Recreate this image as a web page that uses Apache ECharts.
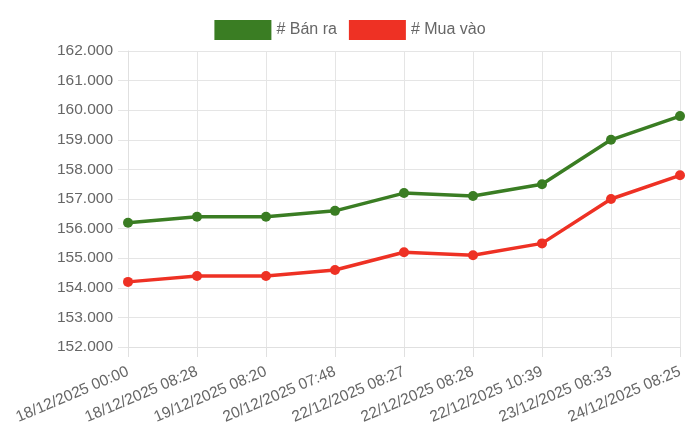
<!DOCTYPE html>
<html>
<head>
<meta charset="utf-8">
<script src="https://cdn.jsdelivr.net/npm/echarts@6/dist/echarts.min.js"></script>
<style>html,body{margin:0;padding:0;background:#fff}#c{width:700px;height:441px}</style>
</head>
<body>
<div id="c"></div>
<script>
const categories = ["18/12/2025 00:00","18/12/2025 08:28","19/12/2025 08:20","20/12/2025 07:48","22/12/2025 08:27","22/12/2025 08:28","22/12/2025 10:39","23/12/2025 08:33","24/12/2025 08:25"];
const banRa = [156200,156400,156400,156600,157200,157100,157500,159000,159800];
const muaVao = [154200,154400,154400,154600,155200,155100,155500,157000,157800];
const seriesNames = ["# Bán ra","# Mua vào"];

function fmt(v){return String(v).replace(/\B(?=(\d{3})+(?!\d))/g,'.');}
const font = "'Liberation Sans', Arial, Helvetica, sans-serif";
const chart = echarts.init(document.getElementById('c'));
chart.setOption({
  animation:false,
  textStyle:{fontFamily:font},
  legend:{top:15,left:'center',itemWidth:57,itemHeight:20,itemGap:12,icon:'rect',
    textStyle:{fontSize:16,color:'#666',fontFamily:font},
    data:[{name:seriesNames[0],itemStyle:{color:'#3a7d23'}},{name:seriesNames[1],itemStyle:{color:'#ee3124'}}]},
  grid:{left:128,right:20,top:51,bottom:94,containLabel:false},
  xAxis:{type:'category',data:categories,boundaryGap:false,
    axisLine:{show:true,lineStyle:{color:'#e0e0e0'}},
    axisTick:{show:true,length:10,alignWithLabel:true,lineStyle:{color:'#e0e0e0'}},
    splitLine:{show:true,lineStyle:{color:'#e5e5e5'}},
    axisLabel:{rotate:23,fontSize:15.5,color:'#666',margin:24,interval:0,fontFamily:font}},
  yAxis:{type:'value',min:152000,max:162000,interval:1000,
    axisLine:{show:true,lineStyle:{color:'#e0e0e0'}},
    axisTick:{show:true,length:10,lineStyle:{color:'#e5e5e5'}},
    splitLine:{show:true,lineStyle:{color:'#e5e5e5'}},
    axisLabel:{fontSize:15.5,color:'#666',margin:15,formatter:fmt,fontFamily:font}},
  series:[
    {name:seriesNames[0],type:'line',data:banRa,symbol:'circle',symbolSize:10,
      lineStyle:{width:3.5,color:'#3a7d23'},itemStyle:{color:'#3a7d23'}},
    {name:seriesNames[1],type:'line',data:muaVao,symbol:'circle',symbolSize:10,
      lineStyle:{width:3.5,color:'#ee3124'},itemStyle:{color:'#ee3124'}}
  ]
});
</script>
</body>
</html>
